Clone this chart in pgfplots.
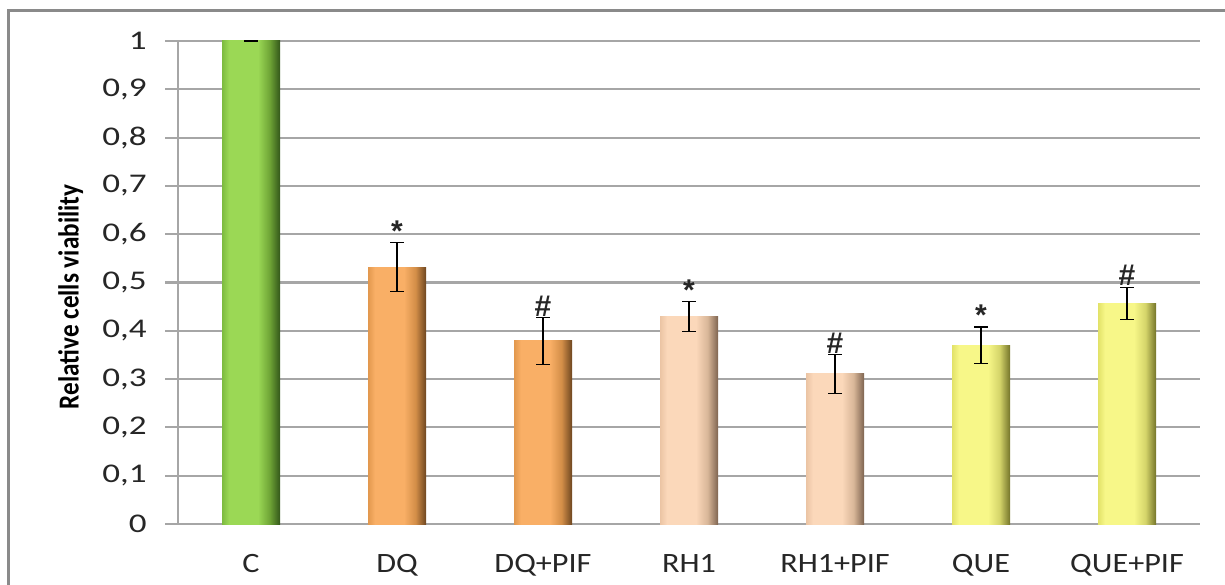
\documentclass[border=0pt]{standalone}
\usepackage{fontspec}
\setmainfont{Carlito}
\newfontfamily\ytickfont{Carlito}[FakeStretch=1.3]
\newfontfamily\xtickfont{Carlito}[FakeStretch=1.15]
\newfontfamily\labelfont{Carlito}[FakeStretch=0.87]
\newfontfamily\symfont{Liberation Sans}
\usepackage{pgfplots}
\pgfplotsset{compat=1.18}

\definecolor{gridgray}{HTML}{A6A6A6}
\definecolor{framegray}{HTML}{8A8A8A}
% bar shades: left edge, face, shoulder, right (shadow) edge
\definecolor{grL}{HTML}{7DBB40}\definecolor{grM}{HTML}{9BD855}\definecolor{grS}{HTML}{6FA536}\definecolor{grR}{HTML}{33571A}
\definecolor{orL}{HTML}{E2984E}\definecolor{orM}{HTML}{F9AF66}\definecolor{orS}{HTML}{D38E48}\definecolor{orR}{HTML}{6E4620}
\definecolor{peL}{HTML}{EBC4A4}\definecolor{peM}{HTML}{FBD8BA}\definecolor{peS}{HTML}{D8B698}\definecolor{peR}{HTML}{7E6450}
\definecolor{yeL}{HTML}{E2E268}\definecolor{yeM}{HTML}{F7F788}\definecolor{yeS}{HTML}{D4D46A}\definecolor{yeR}{HTML}{74742A}

% horizontal bevel shading across one bar (the bar spans 25bp..75bp)
\newcommand\barshading[5]{%
  \pgfdeclarehorizontalshading{#1}{100bp}{%
    color(0bp)=(#2); color(25bp)=(#2); color(31bp)=(#3); color(56bp)=(#3);
    color(66bp)=(#4); color(75bp)=(#5); color(100bp)=(#5)}}
\barshading{grbar}{grL}{grM}{grS}{grR}
\barshading{orbar}{orL}{orM}{orS}{orR}
\barshading{pebar}{peL}{peM}{peS}{peR}
\barshading{yebar}{yeL}{yeM}{yeS}{yeR}

\pgfplotsset{
  shadedbar/.style={ybar, bar width=29pt, bar shift=0pt, draw=none,
    shade, shading=#1},
}

\begin{document}
\begin{tikzpicture}
\useasboundingbox (0,0) rectangle (612.5pt,292pt);
% outer chart frame
\draw[framegray, line width=1.5pt] (4pt,-10pt) -- (4pt,286.5pt) -- (630pt,286.5pt);
\begin{axis}[
  at={(89pt,30pt)}, anchor=south west,
  scale only axis, width=511pt, height=241.5pt,
  xmin=-0.5, xmax=6.5, ymin=0, ymax=1,
  axis x line*=bottom, axis y line*=left,
  axis line style={gridgray, line width=1pt},
  xtick={0,...,6},
  xticklabels={C,DQ,DQ+PIF,RH1,RH1+PIF,QUE,QUE+PIF},
  ytick={0,0.1,0.2,0.3,0.4,0.5,0.6,0.7,0.8,0.9,1},
  ymajorgrids, major grid style={gridgray, line width=1pt},
  tick align=outside,
  major tick length=6.5pt,
  xtick style={draw=none},
  ytick style={gridgray, line width=1pt},
  /pgf/number format/assume math mode=true,
  /pgf/number format/use comma,
  /pgf/number format/fixed,
  yticklabel style={font=\ytickfont\fontsize{13.5}{14}\selectfont, text=black!85, inner sep=0pt, xshift=-9pt},
  xticklabel style={font=\xtickfont\fontsize{14}{15}\selectfont, text=black!85, yshift=-5pt},
  ylabel={Relative cells viability},
  ylabel style={font=\labelfont\bfseries\fontsize{14.5}{15}\selectfont, at={(axis description cs:-0.105,0.47)}, anchor=center},
  error bars/y dir=both, error bars/y explicit,
  error bars/error bar style={black, line width=0.6pt},
  error bars/error mark options={black, rotate=90, mark size=3.5pt, line width=0.6pt},
  clip=false,
]
\addplot[shadedbar=grbar] coordinates {(0,1.000) +- (0,0)};
\addplot[shadedbar=orbar] coordinates {(1,0.532) +- (0,0.050)};
\addplot[shadedbar=orbar] coordinates {(2,0.379) +- (0,0.048)};
\addplot[shadedbar=pebar] coordinates {(3,0.429) +- (0,0.031)};
\addplot[shadedbar=pebar] coordinates {(4,0.311) +- (0,0.040)};
\addplot[shadedbar=yebar] coordinates {(5,0.370) +- (0,0.038)};
\addplot[shadedbar=yebar] coordinates {(6,0.457) +- (0,0.033)};
% significance marks above the upper error whiskers
\addplot[only marks, mark=none, point meta=explicit symbolic,
  nodes near coords,
  every node near coord/.style={font=\symfont\bfseries\fontsize{15}{16}\selectfont, anchor=south, inner sep=0.5pt, text=black!85}]
  coordinates {(1,0.582)[*] (2,0.427)[\#] (3,0.460)[*] (4,0.351)[\#] (5,0.408)[*] (6,0.490)[\#]};
\end{axis}
\end{tikzpicture}
\end{document}
